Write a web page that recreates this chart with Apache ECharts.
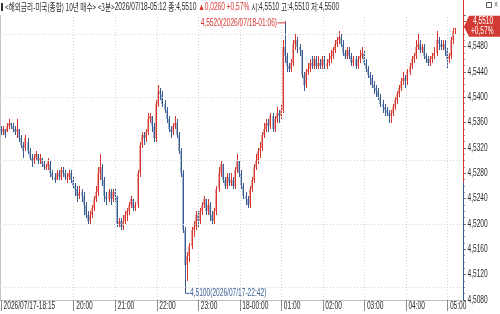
<!DOCTYPE html>
<html>
<head>
<meta charset="utf-8">
<script src="https://cdn.jsdelivr.net/npm/echarts@6/dist/echarts.min.js"></script>
<style>
html, body { margin: 0; padding: 0; background: #fff; }
#main { width: 500px; height: 314px; }
</style>
</head>
<body>
<div id="main"></div>
<script>
// 3분봉 [시가, 종가, 저가, 고가]
var candles = [
	[4.5350,4.5345,4.5340,4.5355],[4.5345,4.5350,4.5340,4.5355],[4.5350,4.5340,4.5335,4.5350],[4.5345,4.5355,4.5345,4.5360],[4.5355,4.5360,4.5350,4.5365],
	[4.5360,4.5355,4.5350,4.5360],[4.5355,4.5350,4.5345,4.5360],[4.5350,4.5345,4.5340,4.5355],[4.5345,4.5350,4.5335,4.5365],[4.5350,4.5335,4.5330,4.5350],
	[4.5335,4.5325,4.5320,4.5340],[4.5325,4.5315,4.5305,4.5330],[4.5320,4.5335,4.5315,4.5340],[4.5330,4.5315,4.5310,4.5335],[4.5315,4.5305,4.5300,4.5320],
	[4.5305,4.5300,4.5290,4.5310],[4.5300,4.5305,4.5295,4.5310],[4.5305,4.5310,4.5300,4.5315],[4.5310,4.5300,4.5295,4.5310],[4.5300,4.5305,4.5295,4.5310],
	[4.5305,4.5295,4.5290,4.5305],[4.5295,4.5290,4.5285,4.5300],[4.5290,4.5290,4.5285,4.5295],[4.5290,4.5300,4.5285,4.5305],[4.5295,4.5280,4.5275,4.5300],
	[4.5280,4.5275,4.5270,4.5285],[4.5275,4.5270,4.5265,4.5280],[4.5270,4.5280,4.5270,4.5285],[4.5280,4.5275,4.5270,4.5285],[4.5275,4.5285,4.5270,4.5290],
	[4.5285,4.5280,4.5275,4.5290],[4.5280,4.5275,4.5270,4.5285],[4.5275,4.5275,4.5265,4.5280],[4.5275,4.5280,4.5270,4.5285],[4.5280,4.5270,4.5265,4.5285],
	[4.5270,4.5260,4.5255,4.5275],[4.5260,4.5255,4.5245,4.5265],[4.5255,4.5245,4.5235,4.5260],[4.5245,4.5250,4.5240,4.5260],[4.5250,4.5245,4.5235,4.5255],
	[4.5245,4.5230,4.5215,4.5250],[4.5230,4.5215,4.5210,4.5235],[4.5215,4.5205,4.5200,4.5220],[4.5205,4.5215,4.5200,4.5220],[4.5215,4.5225,4.5210,4.5230],
	[4.5225,4.5240,4.5220,4.5245],[4.5240,4.5250,4.5235,4.5260],[4.5250,4.5280,4.5245,4.5290],[4.5280,4.5290,4.5270,4.5310],[4.5290,4.5270,4.5260,4.5295],
	[4.5270,4.5245,4.5235,4.5275],[4.5245,4.5240,4.5230,4.5250],[4.5240,4.5250,4.5235,4.5255],[4.5250,4.5240,4.5230,4.5255],[4.5240,4.5250,4.5235,4.5255],
	[4.5250,4.5245,4.5235,4.5255],[4.5245,4.5200,4.5195,4.5245],[4.5200,4.5205,4.5195,4.5210],[4.5205,4.5195,4.5190,4.5210],[4.5195,4.5205,4.5190,4.5215],
	[4.5205,4.5215,4.5200,4.5220],[4.5215,4.5220,4.5205,4.5225],[4.5220,4.5230,4.5215,4.5235],[4.5230,4.5240,4.5225,4.5245],[4.5240,4.5225,4.5220,4.5240],
	[4.5225,4.5230,4.5220,4.5235],[4.5230,4.5280,4.5225,4.5285],[4.5280,4.5325,4.5275,4.5330],[4.5325,4.5340,4.5320,4.5345],[4.5340,4.5335,4.5325,4.5345],
	[4.5335,4.5345,4.5330,4.5350],[4.5345,4.5365,4.5340,4.5375],[4.5365,4.5370,4.5360,4.5375],[4.5370,4.5355,4.5345,4.5370],[4.5355,4.5335,4.5330,4.5360],
	[4.5335,4.5390,4.5330,4.5395],[4.5390,4.5410,4.5385,4.5420],[4.5410,4.5405,4.5395,4.5415],[4.5405,4.5390,4.5385,4.5410],[4.5390,4.5380,4.5375,4.5395],
	[4.5380,4.5365,4.5360,4.5385],[4.5365,4.5350,4.5345,4.5370],[4.5350,4.5345,4.5335,4.5355],[4.5345,4.5355,4.5340,4.5360],[4.5355,4.5360,4.5350,4.5370],
	[4.5360,4.5340,4.5335,4.5365],[4.5340,4.5315,4.5310,4.5345],[4.5315,4.5280,4.5275,4.5320],[4.5280,4.5190,4.5185,4.5285],[4.5190,4.5135,4.5100,4.5195],
	[4.5135,4.5150,4.5110,4.5155],[4.5150,4.5165,4.5140,4.5170],[4.5165,4.5190,4.5160,4.5195],[4.5190,4.5195,4.5180,4.5205],[4.5195,4.5215,4.5190,4.5220],
	[4.5215,4.5205,4.5195,4.5220],[4.5205,4.5220,4.5200,4.5225],[4.5220,4.5230,4.5215,4.5235],[4.5230,4.5240,4.5225,4.5245],[4.5240,4.5220,4.5215,4.5240],
	[4.5220,4.5230,4.5215,4.5240],[4.5230,4.5215,4.5205,4.5235],[4.5215,4.5205,4.5200,4.5220],[4.5205,4.5220,4.5200,4.5225],[4.5220,4.5255,4.5215,4.5260],
	[4.5255,4.5280,4.5250,4.5290],[4.5280,4.5295,4.5275,4.5300],[4.5295,4.5270,4.5265,4.5295],[4.5270,4.5260,4.5255,4.5275],[4.5260,4.5275,4.5255,4.5280],
	[4.5275,4.5265,4.5260,4.5280],[4.5265,4.5270,4.5260,4.5280],[4.5270,4.5260,4.5255,4.5275],[4.5260,4.5285,4.5255,4.5290],[4.5285,4.5300,4.5280,4.5310],
	[4.5300,4.5280,4.5275,4.5300],[4.5280,4.5260,4.5255,4.5285],[4.5260,4.5245,4.5240,4.5265],[4.5245,4.5240,4.5230,4.5250],[4.5240,4.5230,4.5225,4.5245],
	[4.5230,4.5255,4.5225,4.5260],[4.5255,4.5270,4.5250,4.5275],[4.5270,4.5290,4.5265,4.5295],[4.5290,4.5300,4.5285,4.5310],[4.5300,4.5315,4.5295,4.5320],
	[4.5315,4.5320,4.5305,4.5330],[4.5320,4.5340,4.5315,4.5345],[4.5340,4.5350,4.5335,4.5360],[4.5350,4.5360,4.5345,4.5365],[4.5360,4.5355,4.5345,4.5365],
	[4.5355,4.5370,4.5350,4.5375],[4.5370,4.5350,4.5345,4.5375],[4.5350,4.5365,4.5345,4.5370],[4.5365,4.5375,4.5360,4.5385],[4.5375,4.5370,4.5360,4.5380],
	[4.5370,4.5380,4.5365,4.5390],[4.5380,4.5480,4.5375,4.5490],[4.5480,4.5465,4.5455,4.5520],[4.5465,4.5450,4.5440,4.5470],[4.5450,4.5445,4.5440,4.5455],
	[4.5445,4.5455,4.5440,4.5460],[4.5455,4.5485,4.5450,4.5490],[4.5485,4.5490,4.5475,4.5500],[4.5490,4.5480,4.5470,4.5495],[4.5480,4.5475,4.5465,4.5485],
	[4.5475,4.5435,4.5430,4.5475],[4.5435,4.5420,4.5410,4.5440],[4.5420,4.5440,4.5415,4.5445],[4.5440,4.5445,4.5435,4.5455],[4.5445,4.5455,4.5440,4.5460],
	[4.5455,4.5450,4.5445,4.5465],[4.5450,4.5460,4.5445,4.5465],[4.5460,4.5450,4.5445,4.5465],[4.5450,4.5455,4.5445,4.5465],[4.5455,4.5450,4.5445,4.5460],
	[4.5450,4.5460,4.5445,4.5465],[4.5460,4.5450,4.5445,4.5465],[4.5450,4.5455,4.5445,4.5460],[4.5455,4.5460,4.5450,4.5470],[4.5460,4.5465,4.5455,4.5475],
	[4.5465,4.5475,4.5460,4.5480],[4.5475,4.5485,4.5470,4.5490],[4.5485,4.5490,4.5480,4.5495],[4.5490,4.5495,4.5485,4.5505],[4.5495,4.5485,4.5480,4.5500],
	[4.5485,4.5470,4.5465,4.5490],[4.5470,4.5465,4.5460,4.5475],[4.5465,4.5475,4.5460,4.5480],[4.5475,4.5465,4.5460,4.5480],[4.5465,4.5455,4.5450,4.5470],
	[4.5455,4.5460,4.5450,4.5465],[4.5460,4.5450,4.5445,4.5465],[4.5450,4.5460,4.5445,4.5465],[4.5460,4.5465,4.5455,4.5475],[4.5465,4.5470,4.5460,4.5480],
	[4.5470,4.5455,4.5450,4.5475],[4.5455,4.5445,4.5440,4.5460],[4.5445,4.5435,4.5430,4.5450],[4.5435,4.5430,4.5420,4.5440],[4.5430,4.5420,4.5415,4.5435],
	[4.5420,4.5415,4.5405,4.5425],[4.5415,4.5410,4.5400,4.5420],[4.5410,4.5400,4.5395,4.5415],[4.5400,4.5390,4.5385,4.5405],[4.5390,4.5385,4.5375,4.5395],
	[4.5385,4.5380,4.5370,4.5390],[4.5380,4.5375,4.5370,4.5385],[4.5375,4.5370,4.5360,4.5380],[4.5370,4.5375,4.5360,4.5380],[4.5375,4.5385,4.5370,4.5390],
	[4.5385,4.5395,4.5380,4.5400],[4.5395,4.5405,4.5390,4.5410],[4.5405,4.5415,4.5400,4.5420],[4.5415,4.5425,4.5410,4.5430],[4.5425,4.5430,4.5420,4.5440],
	[4.5430,4.5425,4.5415,4.5435],[4.5425,4.5440,4.5420,4.5445],[4.5440,4.5450,4.5435,4.5455],[4.5450,4.5460,4.5445,4.5465],[4.5460,4.5465,4.5455,4.5470],
	[4.5465,4.5480,4.5460,4.5490],[4.5480,4.5485,4.5475,4.5500],[4.5485,4.5475,4.5470,4.5490],[4.5475,4.5480,4.5470,4.5485],[4.5480,4.5465,4.5460,4.5485],
	[4.5465,4.5460,4.5455,4.5470],[4.5460,4.5455,4.5450,4.5465],[4.5455,4.5460,4.5450,4.5465],[4.5460,4.5465,4.5455,4.5470],[4.5465,4.5470,4.5460,4.5480],
	[4.5470,4.5490,4.5465,4.5505],[4.5490,4.5485,4.5475,4.5495],[4.5485,4.5480,4.5475,4.5490],[4.5480,4.5485,4.5475,4.5490],[4.5485,4.5475,4.5465,4.5490],
	[4.5475,4.5460,4.5445,4.5480],[4.5460,4.5465,4.5455,4.5470],[4.5465,4.5490,4.5460,4.5495],[4.5490,4.5505,4.5485,4.5510],[4.5510,4.5510,4.5500,4.5510]
];

var startTime = [2026, 7, 17, 18, 15];
var barMinutes = 3;
var emptyBars = 3;

// 시간축 눈금
var tickIndex = [0, 35, 55, 75, 95, 115, 135, 155, 175, 195, 215];
var tickLabels = ["2026/07/17-18:15", "20:00", "21:00", "22:00", "23:00", "18-00:00", "01:00", "02:00", "03:00", "04:00", "05:00"];

// 가격축 눈금
var yTicks = [4.5080, 4.5120, 4.5160, 4.5200, 4.5240, 4.5280, 4.5320, 4.5360, 4.5400, 4.5440, 4.5480, 4.5520];
var yTickLabels = ["4,5080", "4,5120", "4,5160", "4,5200", "4,5240", "4,5280", "4,5320", "4,5360", "4,5400", "4,5440", "4,5480", ""];
var yMin = 4.5080;
var yMax = 4.5530;
var yStep = 0.0040;

var prevClose = 4.5250;
var axisSplit = 4.5265;
var title = "<해외금리-미국(종합) 10년 매수> <3분>";

var UP = "#d6362f";
var UP_LIGHT = "#eba39e";
var DOWN = "#395d92";
var DOWN_LIGHT = "#a3b5cf";
var TEXT = "#2a2a2a";

function pad(n) {
	return (n < 10 ? "0" : "") + n;
}

function fmt(v) {
	return v.toFixed(4).replace(".", ",");
}

var categories = [];
var fullTimes = [];
var t0 = new Date(startTime[0], startTime[1] - 1, startTime[2], startTime[3], startTime[4]);
for (var i = 0; i < candles.length + emptyBars; i++) {
	var d = new Date(t0.getTime() + i * barMinutes * 60000);
	categories.push(pad(d.getHours()) + ":" + pad(d.getMinutes()));
	fullTimes.push(d.getFullYear() + "/" + pad(d.getMonth() + 1) + "/" + pad(d.getDate()) + "-" + pad(d.getHours()) + ":" + pad(d.getMinutes()));
}

// 봉 그리기 (픽셀 맞춤)
function renderCandle(params, api) {
	var idx = api.value(0);
	var o = api.value(1), c = api.value(2), l = api.value(3), h = api.value(4);
	var xs = Math.floor(api.coord([idx, o])[0]);
	var yo = Math.round(api.coord([idx, o])[1]);
	var yc = Math.round(api.coord([idx, c])[1]);
	var yl = Math.round(api.coord([idx, l])[1]);
	var yh = Math.round(api.coord([idx, h])[1]);
	var up = c > o || (c == o && idx > 0 && c >= candles[idx - 1][1]);
	var top = Math.min(yo, yc);
	var bh = Math.max(1, Math.abs(yo - yc));
	return {
		type: "group",
		children: [
			{
				type: "rect",
				shape: { x: xs - 1, y: top, width: 2, height: bh },
				style: { fill: up ? UP_LIGHT : DOWN_LIGHT }
			},
			{
				type: "rect",
				shape: { x: xs, y: yh, width: 1, height: Math.max(1, yl - yh) },
				style: { fill: up ? UP : DOWN }
			}
		]
	};
}

var chart = echarts.init(document.getElementById("main"));

var option = {
	animation: false,
	backgroundColor: "#fff",
	grid: {
		left: -3,
		right: 37,
		top: 15,
		bottom: 14
	},
	xAxis: {
		type: "category",
		data: categories,
		boundaryGap: true,
		axisLine: {
			lineStyle: { color: "#bdbdbd" }
		},
		axisTick: {
			show: true,
			alignWithLabel: true,
			length: 11,
			interval: function (idx) {
				return tickIndex.indexOf(idx) >= 0;
			},
			lineStyle: { color: "#8c8c8c" }
		},
		axisLabel: { show: false },
		splitLine: { show: false }
	},
	yAxis: {
		type: "value",
		position: "right",
		min: yMin,
		max: yMax,
		interval: yStep,
		axisLine: { show: false },
		axisTick: {
			show: true,
			length: 3,
			lineStyle: { color: "#777" }
		},
		minorTick: {
			show: true,
			splitNumber: 4,
			length: 2,
			lineStyle: { color: "#9a9a9a" }
		},
		axisLabel: { show: false },
		splitLine: { show: false }
	},
	series: [
		{
			type: "custom",
			renderItem: renderCandle,
			clip: true,
			silent: true,
			encode: { x: 0, y: [1, 2, 3, 4] },
			data: candles.map(function (c, k) {
				return [k, c[0], c[1], c[2], c[3]];
			}),
			markLine: {
				silent: true,
				symbol: "none",
				label: { show: false },
				lineStyle: { color: "#d4d4d4", type: [1, 2], width: 1 },
				data: tickIndex.slice(1).map(function (idx) {
					return { xAxis: idx };
				}).concat(yTicks.map(function (v) {
					return { yAxis: v };
				}))
			}
		}
	]
};

chart.setOption(option);

// 라벨, 주석
function toPx(idx, v) {
	return chart.convertToPixel({ gridIndex: 0 }, [idx, v]);
}

function txt(x, y, s, color, align, family) {
	return {
		type: "text",
		x: x,
		y: y,
		scaleX: 0.66,
		silent: true,
		z: 100,
		style: {
			text: s,
			fill: color,
			font: "10px " + (family || "'Liberation Sans', sans-serif"),
			align: align || "left",
			verticalAlign: "middle"
		}
	};
}

var g = [];
var plotTop = 15, plotBottom = 300;
var axisX = 463.5;

var last = candles[candles.length - 1];
var change = last[1] - prevClose;
var pct = change / prevClose * 100;

// 제목줄
g.push({ type: "rect", shape: { x: 1, y: 3, width: 2, height: 8 }, style: { fill: "#333" }, silent: true });
var cjk = "'Noto Sans CJK KR', sans-serif";
var lat = "'Liberation Sans', sans-serif";
g.push({
	type: "text", x: 5, y: 7.5, scaleX: 0.66, silent: true,
	style: {
		text: "{k|" + title + "}{a|" + fullTimes[candles.length - 1] + " }{k|종}{a|:" + fmt(last[1]) + " }" +
			"{b|▲" + fmt(change) + " +" + pct.toFixed(2).replace(".", ",") + "%}" +
			"{a| }{k|시}{a|:" + fmt(last[0]) + " }{k|고}{a|:" + fmt(last[3]) + " }{k|저}{a|:" + fmt(last[2]) + "}",
		verticalAlign: "middle",
		rich: {
			k: { fill: TEXT, fontSize: 10, fontFamily: cjk },
			a: { fill: TEXT, fontSize: 10, fontFamily: lat },
			b: { fill: UP, fontSize: 10, fontFamily: lat }
		}
	}
});
// 창 버튼
g.push({ type: "rect", shape: { x: 486.5, y: 2.5, width: 5, height: 5 }, style: { fill: "none", stroke: "#555", lineWidth: 1 }, silent: true });
g.push(txt(494, 5.5, "×", "#555", "left"));

// 왼쪽 테두리
g.push({ type: "line", shape: { x1: 0.5, y1: plotTop, x2: 0.5, y2: plotBottom }, style: { stroke: "#c4c4c4", lineWidth: 1 }, silent: true });

// 가격축 선
var ySplit = toPx(0, axisSplit)[1];
g.push({ type: "line", shape: { x1: axisX, y1: 0, x2: axisX, y2: ySplit }, style: { stroke: UP, lineWidth: 1 }, silent: true, z: 50 });
g.push({ type: "line", shape: { x1: axisX, y1: ySplit, x2: axisX, y2: plotBottom }, style: { stroke: DOWN, lineWidth: 1 }, silent: true, z: 50 });

yTicks.forEach(function (v, k) {
	if (yTickLabels[k]) {
		g.push(txt(467.5, toPx(0, v)[1], yTickLabels[k], TEXT, "left"));
	}
});

tickIndex.forEach(function (idx, k) {
	var p = toPx(idx, yMin);
	g.push(txt(Math.max(p[0] + 2.5, 1), 306.5, tickLabels[k], TEXT, "left"));
});

// 최고, 최저
var hiIdx = 0, loIdx = 0;
candles.forEach(function (c, k) {
	if (c[3] > candles[hiIdx][3]) hiIdx = k;
	if (c[2] < candles[loIdx][2]) loIdx = k;
});
var hp = toPx(hiIdx, candles[hiIdx][3]);
var hx = Math.floor(hp[0]) + 0.5;
g.push({ type: "polyline", shape: { points: [[hx - 8, hp[1] + 1.5], [hx, hp[1] + 1.5], [hx, hp[1]]] }, style: { stroke: UP, lineWidth: 1, fill: null }, silent: true, z: 60 });
g.push(txt(hx - 8.5, hp[1] + 1.5, fmt(candles[hiIdx][3]) + "(" + fullTimes[hiIdx] + ")", UP, "right"));

var lp = toPx(loIdx, candles[loIdx][2]);
var lx = Math.floor(lp[0]) + 0.5;
g.push({ type: "polyline", shape: { points: [[lx, lp[1]], [lx, lp[1] + 6], [lx + 4, lp[1] + 6]] }, style: { stroke: DOWN, lineWidth: 1, fill: null }, silent: true, z: 60 });
g.push(txt(lx + 4.5, lp[1] + 6, fmt(candles[loIdx][2]) + "(" + fullTimes[loIdx] + ")", DOWN, "left"));

// 현재가 표시
var cy = toPx(candles.length - 1, last[1])[1];
g.push({
	type: "polygon",
	shape: { points: [[464, cy - 1], [469, cy - 12], [500, cy - 12], [500, cy + 9], [469, cy + 9]] },
	style: { fill: "#d23a33" },
	silent: true,
	z: 80
});
g.push(txt(473, cy - 6.5, fmt(last[1]), "#fff", "left"));
g.push(txt(471, cy + 3.5, "+" + pct.toFixed(2).replace(".", ",") + "%", "#fff", "left"));

chart.setOption({ graphic: { elements: g } });
</script>
</body>
</html>
